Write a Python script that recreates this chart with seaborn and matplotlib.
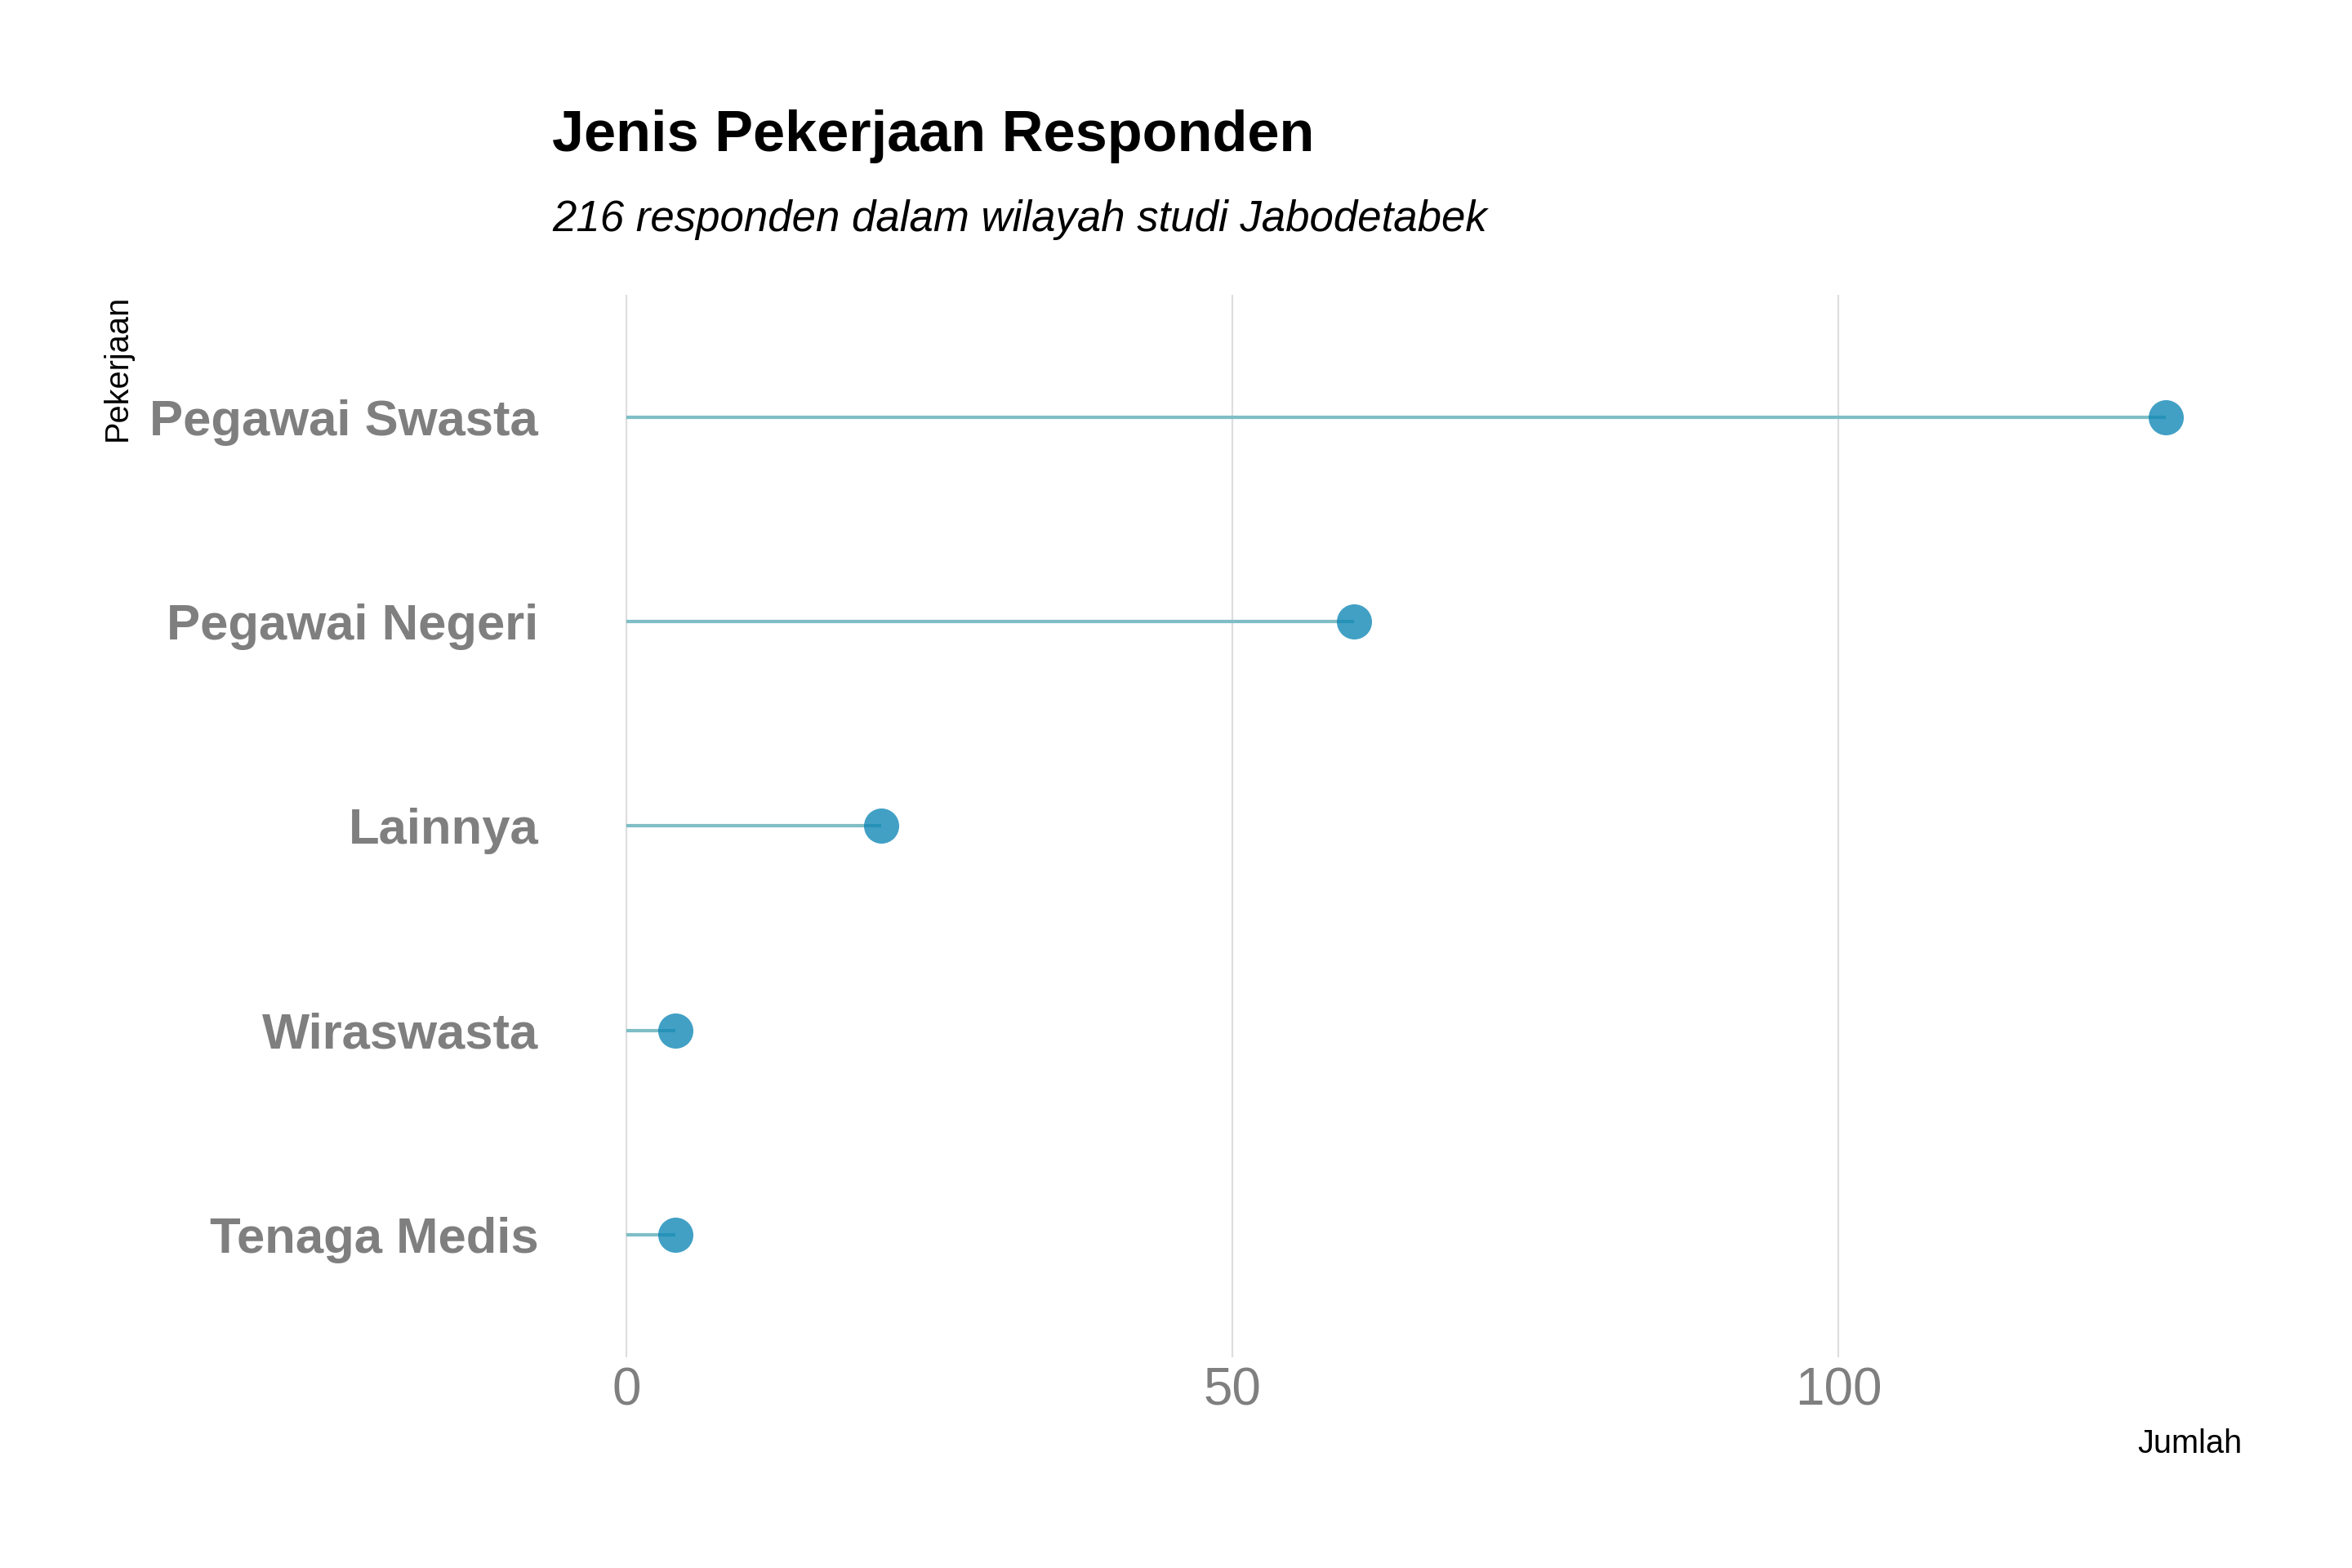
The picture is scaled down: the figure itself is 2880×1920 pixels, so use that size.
"""Lollipop chart: jenis pekerjaan responden (Jabodetabek)."""
import matplotlib
matplotlib.use("Agg")
import matplotlib.pyplot as plt
import pandas as pd
import seaborn as sns

# data (top to bottom)
JOBS = ["Pegawai Swasta", "Pegawai Negeri", "Lainnya", "Wiraswasta", "Tenaga Medis"]
COUNTS = [127, 60, 21, 4, 4]
XTICKS = [0, 50, 100]

TITLE = "Jenis Pekerjaan Responden"
SUBTITLE = "216 responden dalam wilayah studi Jabodetabek"

SEG_COLOR = "#7fbec6"
PT_COLOR = "#0d86b5"
GREY = "#7f7f7f"


def main() -> None:
    df = pd.DataFrame({"pekerjaan": JOBS, "jumlah": COUNTS})

    sns.set_theme(style="white")
    plt.rcParams["font.family"] = ["Liberation Sans", "DejaVu Sans"]

    fig = plt.figure(figsize=(14.4, 9.6), dpi=200)
    ax = fig.add_axes([0.2337, 0.1344, 0.7198, 0.6776])

    ax.hlines(y=df["pekerjaan"], xmin=0, xmax=df["jumlah"],
              color=SEG_COLOR, lw=1.5, zorder=2)
    sns.stripplot(data=df, x="jumlah", y="pekerjaan", order=JOBS,
                  jitter=False, size=15.5, color=PT_COLOR, alpha=0.78,
                  linewidth=0, ax=ax, zorder=3)

    pad = 0.05 * df["jumlah"].max()
    ax.set_xlim(-pad, df["jumlah"].max() + pad)
    ax.set_ylim(len(JOBS) - 0.4, -0.6)

    ax.set_xticks(XTICKS)
    ax.grid(axis="x", color="#dedede", lw=0.8)
    ax.grid(axis="y", visible=False)
    ax.set_axisbelow(True)
    sns.despine(ax=ax, left=True, bottom=True)
    ax.tick_params(axis="x", length=0, pad=4, labelsize=23, labelcolor=GREY)
    ax.tick_params(axis="y", length=0, pad=5, labelsize=22.2, labelcolor=GREY)
    for lab in ax.get_yticklabels():
        lab.set_fontweight("bold")

    ax.set_xlabel("Jumlah", loc="right", fontsize=14.3, color="black")
    ax.xaxis.set_label_coords(1.0, -0.067)
    ax.set_ylabel("Pekerjaan", loc="top", fontsize=14.3, color="black")
    ax.yaxis.set_label_coords(-0.246, 1.0)

    fig.text(0.2347, 0.9036, TITLE, fontsize=25.3, fontweight="bold",
             color="black", ha="left", va="baseline")
    fig.text(0.2347, 0.8526, SUBTITLE, fontsize=19, style="italic",
             color="black", ha="left", va="baseline")

    fig.savefig("out.png", dpi=200, facecolor="white")
    plt.close(fig)


if __name__ == "__main__":
    main()
